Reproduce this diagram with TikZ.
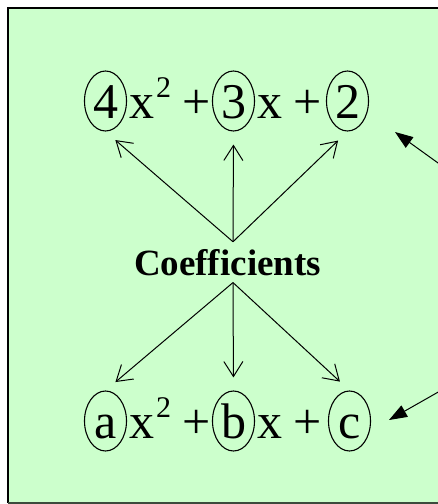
\documentclass[tikz,border=0pt]{standalone}
\usepackage{fontspec}
\setmainfont{Liberation Serif}[Ligatures=NoCommon]
\usetikzlibrary{arrows.meta,shapes.geometric}
\definecolor{panelgreen}{HTML}{CCFFCC}
\definecolor{edgegray}{HTML}{3C4A3C}
\begin{document}
\begin{tikzpicture}[x=1pt,y=-1pt,
  coefell/.style={draw, ellipse, line width=1.1pt, inner sep=0pt,
    minimum width=42pt, minimum height=60pt, text height=34pt, text depth=0pt,
    font=\fontsize{50}{50}\selectfont, anchor=base},
  term/.style={inner sep=0pt, font=\fontsize{50}{50}\selectfont, anchor=base},
  pointer/.style={line width=1pt, shorten >=13pt, -{Straight Barb[length=15pt,width=19pt]}},
  callout/.style={line width=1pt, -{Triangle[length=18pt,width=13pt]}}]
\useasboundingbox (0,0) rectangle (438,504);
% panel
\fill[panelgreen] (8,8) rectangle (470,503);
\draw[line width=2pt] (470,8) -- (8,8) -- (8,503);
\draw[edgegray, line width=2pt] (8,503) -- (470,503);
% top polynomial
\node[coefell] (e4) at (105.5,118) {4};
\node[term, anchor=base west] (x2t) at (129,118) {x\hspace{2pt}\raisebox{21pt}{\fontsize{30}{30}\selectfont 2}};
\node[term] (p1t) at (196.5,118) {+};
\node[coefell] (e3) at (233.5,118) {3};
\node[term] (x1t) at (270,118) {x};
\node[term] (p2t) at (307.5,118) {+};
\node[coefell] (e2) at (347.5,118) {2};
% bottom polynomial
\node[coefell] (ea) at (105.5,438) {a};
\node[term, anchor=base west] (x2b) at (129,438) {x\hspace{2pt}\raisebox{21pt}{\fontsize{30}{30}\selectfont 2}};
\node[term] (p1b) at (196.5,438) {+};
\node[coefell] (eb) at (233.5,438) {b};
\node[term] (x1b) at (270,438) {x};
\node[term] (p2b) at (307.5,438) {+};
\node[coefell] (ec) at (349.5,438) {c};
% label
\node[inner xsep=0pt, inner ysep=7pt, anchor=base,
  font=\bfseries\fontsize{37}{37}\selectfont] (coef) at (227.5,275) {Coefficients};
% pointers
\draw[pointer] ([xshift=5.5pt]coef.north) -- (e4.south);
\draw[pointer] ([xshift=5.5pt]coef.north) -- (e3.south);
\draw[pointer] ([xshift=5.5pt]coef.north) -- (e2.south);
\draw[pointer] ([xshift=5.5pt]coef.south) -- (ea.north);
\draw[pointer] ([xshift=5.5pt]coef.south) -- (eb.north);
\draw[pointer] ([xshift=5.5pt]coef.south) -- (ec.north);
% callouts from the right
\coordinate (src1) at (470,186);
\coordinate (tip1) at (395,132);
\coordinate (src2) at (470,374);
\coordinate (tip2) at (389,420);
\draw[callout] (src1) -- (tip1);
\draw[callout] (src2) -- (tip2);
\end{tikzpicture}
\end{document}
